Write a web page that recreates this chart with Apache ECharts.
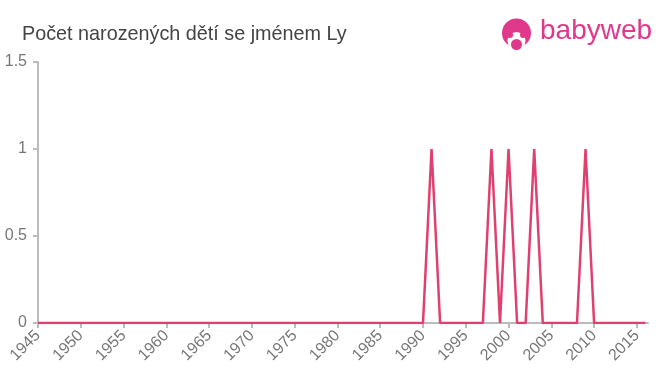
<!DOCTYPE html>
<html>
<head>
<meta charset="utf-8">
<script src="https://cdn.jsdelivr.net/npm/echarts@6/dist/echarts.min.js"></script>
<style>html,body{margin:0;padding:0;background:#fff}#c{width:660px;height:375px}</style>
</head>
<body>
<div id="c"></div>
<script>
const title = 'Počet narozených dětí se jménem Ly';
const years = [];
for (let y = 1945; y <= 2016; y++) years.push(y);
const peakYears = [1991, 1998, 2000, 2003, 2009];
const peakValues = [1, 1, 1, 1, 1];
const xTicks = [1945,1950,1955,1960,1965,1970,1975,1980,1985,1990,1995,2000,2005,2010,2015];
const yTicks = [0, 0.5, 1, 1.5];

const data = years.map(y => {
  const i = peakYears.indexOf(y);
  return [y, i >= 0 ? peakValues[i] : 0];
});

const font = 'Liberation Sans, Arial, sans-serif';
const chart = echarts.init(document.getElementById('c'));
chart.setOption({
  animation: false,
  title: {
    text: title, left: 17, top: 20,
    textStyle: {fontFamily: font, fontSize: 19.8, fontWeight: 'normal', color: '#444'}
  },
  grid: {left: 38, right: 12, top: 62, bottom: 52},
  xAxis: {
    type: 'value', min: 1945, max: 2016.3, interval: 5,
    axisLine: {show: true, lineStyle: {color: '#bbb', width: 2}},
    axisTick: {show: true, length: 5, lineStyle: {color: '#bbb', width: 2}, customValues: xTicks},
    axisLabel: {rotate: 45, color: '#777', fontSize: 16, fontFamily: font, margin: 10,
      customValues: xTicks, formatter: v => String(v)},
    splitLine: {show: false}
  },
  yAxis: {
    type: 'value', min: 0, max: 1.5, interval: 0.5,
    axisLine: {show: true, lineStyle: {color: '#bbb', width: 2}},
    axisTick: {show: true, length: 5, lineStyle: {color: '#bbb', width: 2}},
    axisLabel: {color: '#777', fontSize: 16, fontFamily: font, margin: 11},
    splitLine: {show: false}
  },
  series: [{
    type: 'line', data: data, showSymbol: false, symbol: 'none',
    lineStyle: {color: '#e0406f', width: 2.5}
  }],
  graphic: [
    {type: 'circle', shape: {cx: 516.5, cy: 33, r: 14.5}, style: {fill: '#e0388a'}},
    {type: 'circle', shape: {cx: 516.5, cy: 41, r: 9}, style: {fill: '#fff'}},
    {type: 'circle', shape: {cx: 510, cy: 35, r: 3}, style: {fill: '#e0388a'}},
    {type: 'circle', shape: {cx: 523, cy: 35, r: 3}, style: {fill: '#e0388a'}},
    {type: 'circle', shape: {cx: 516.5, cy: 44.5, r: 5.5}, style: {fill: '#e0388a'}},
    {type: 'text', left: 540, top: 17, style: {text: 'babyweb', fill: '#e0388a', fontSize: 28, fontFamily: font}}
  ]
});
</script>
</body>
</html>
